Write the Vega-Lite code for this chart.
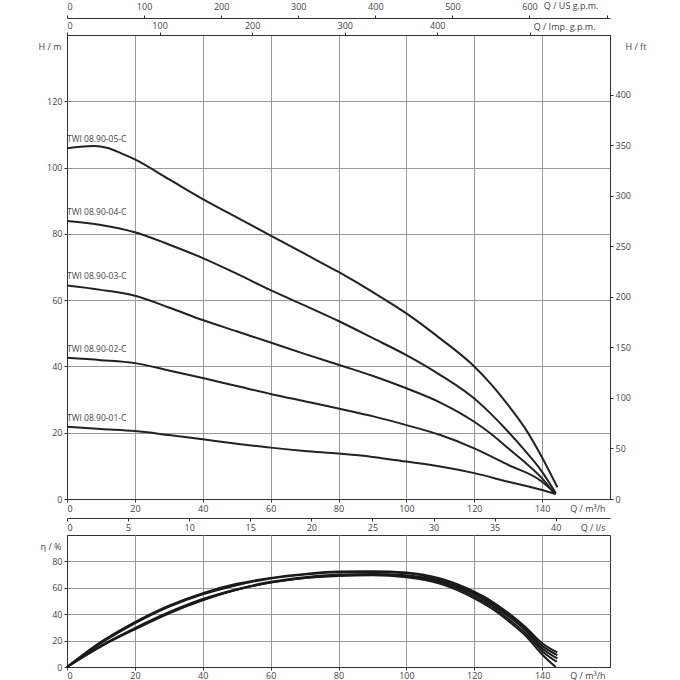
{
  "$schema": "https://vega.github.io/schema/vega-lite/v6.json",
  "padding": {"left": 37, "top": 0, "right": 0, "bottom": 0},
  "background": "white",
  "config": {
    "view": {"stroke": "#333", "strokeWidth": 1},
    "font": "Open Sans",
    "axis": {
      "labelFont": "Open Sans", "labelFontSize": 9, "labelColor": "#444",
      "titleFont": "Open Sans", "titleFontSize": 9, "titleFontWeight": "normal", "titleColor": "#444",
      "domainColor": "#333", "tickColor": "#333", "gridColor": "#999", "gridOpacity": 1,
      "tickSize": 3, "labelPadding": 2
    }
  },
  "datasets": {
    "head": [
      {"pump": "05", "Q": 0, "H": 105.8}, {"pump": "05", "Q": 4, "H": 106.3}, {"pump": "05", "Q": 8, "H": 106.5}, {"pump": "05", "Q": 12, "H": 105.9}, {"pump": "05", "Q": 16, "H": 104.3}, {"pump": "05", "Q": 20, "H": 102.5}, {"pump": "05", "Q": 30, "H": 96.5}, {"pump": "05", "Q": 40, "H": 90.5}, {"pump": "05", "Q": 50, "H": 85}, {"pump": "05", "Q": 60, "H": 79.5}, {"pump": "05", "Q": 70, "H": 74}, {"pump": "05", "Q": 80, "H": 68.5}, {"pump": "05", "Q": 90, "H": 62.5}, {"pump": "05", "Q": 100, "H": 56}, {"pump": "05", "Q": 110, "H": 48.4}, {"pump": "05", "Q": 120, "H": 40}, {"pump": "05", "Q": 125, "H": 34.6}, {"pump": "05", "Q": 130, "H": 28.3}, {"pump": "05", "Q": 135, "H": 21.3}, {"pump": "05", "Q": 140, "H": 12.5}, {"pump": "05", "Q": 144.5, "H": 3.5},
      {"pump": "04", "Q": 0, "H": 83.9}, {"pump": "04", "Q": 10, "H": 82.7}, {"pump": "04", "Q": 20, "H": 80.5}, {"pump": "04", "Q": 30, "H": 76.8}, {"pump": "04", "Q": 40, "H": 72.7}, {"pump": "04", "Q": 50, "H": 68}, {"pump": "04", "Q": 60, "H": 63}, {"pump": "04", "Q": 70, "H": 58.4}, {"pump": "04", "Q": 80, "H": 53.7}, {"pump": "04", "Q": 90, "H": 48.6}, {"pump": "04", "Q": 100, "H": 43.4}, {"pump": "04", "Q": 110, "H": 37.4}, {"pump": "04", "Q": 120, "H": 30.3}, {"pump": "04", "Q": 125, "H": 25.6}, {"pump": "04", "Q": 130, "H": 20.3}, {"pump": "04", "Q": 135, "H": 14.5}, {"pump": "04", "Q": 140, "H": 8.2}, {"pump": "04", "Q": 144, "H": 1.8},
      {"pump": "03", "Q": 0, "H": 64.4}, {"pump": "03", "Q": 10, "H": 63.1}, {"pump": "03", "Q": 20, "H": 61.3}, {"pump": "03", "Q": 30, "H": 57.8}, {"pump": "03", "Q": 40, "H": 54}, {"pump": "03", "Q": 50, "H": 50.6}, {"pump": "03", "Q": 60, "H": 47.2}, {"pump": "03", "Q": 70, "H": 43.8}, {"pump": "03", "Q": 80, "H": 40.5}, {"pump": "03", "Q": 90, "H": 37.2}, {"pump": "03", "Q": 100, "H": 33.4}, {"pump": "03", "Q": 110, "H": 29.1}, {"pump": "03", "Q": 120, "H": 23.3}, {"pump": "03", "Q": 125, "H": 19.6}, {"pump": "03", "Q": 130, "H": 15.3}, {"pump": "03", "Q": 135, "H": 11}, {"pump": "03", "Q": 140, "H": 6.2}, {"pump": "03", "Q": 143.5, "H": 1.8},
      {"pump": "02", "Q": 0, "H": 42.6}, {"pump": "02", "Q": 10, "H": 41.9}, {"pump": "02", "Q": 20, "H": 41}, {"pump": "02", "Q": 30, "H": 38.8}, {"pump": "02", "Q": 40, "H": 36.5}, {"pump": "02", "Q": 50, "H": 34.1}, {"pump": "02", "Q": 60, "H": 31.7}, {"pump": "02", "Q": 70, "H": 29.5}, {"pump": "02", "Q": 80, "H": 27.3}, {"pump": "02", "Q": 90, "H": 25}, {"pump": "02", "Q": 100, "H": 22.3}, {"pump": "02", "Q": 110, "H": 19.3}, {"pump": "02", "Q": 120, "H": 15.3}, {"pump": "02", "Q": 130, "H": 10.3}, {"pump": "02", "Q": 140, "H": 5.2}, {"pump": "02", "Q": 144, "H": 1.5},
      {"pump": "01", "Q": 0, "H": 21.8}, {"pump": "01", "Q": 10, "H": 21.1}, {"pump": "01", "Q": 20, "H": 20.5}, {"pump": "01", "Q": 30, "H": 19.3}, {"pump": "01", "Q": 40, "H": 18}, {"pump": "01", "Q": 50, "H": 16.7}, {"pump": "01", "Q": 60, "H": 15.5}, {"pump": "01", "Q": 70, "H": 14.5}, {"pump": "01", "Q": 80, "H": 13.7}, {"pump": "01", "Q": 90, "H": 12.7}, {"pump": "01", "Q": 100, "H": 11.3}, {"pump": "01", "Q": 110, "H": 9.8}, {"pump": "01", "Q": 120, "H": 7.8}, {"pump": "01", "Q": 130, "H": 5.2}, {"pump": "01", "Q": 140, "H": 2.7}, {"pump": "01", "Q": 144, "H": 1.5}
    ],
    "labels": [
      {"label": "TWI 08.90-05-C", "Q": 0, "H": 108.7},
      {"label": "TWI 08.90-04-C", "Q": 0, "H": 86.7},
      {"label": "TWI 08.90-03-C", "Q": 0, "H": 67.3},
      {"label": "TWI 08.90-02-C", "Q": 0, "H": 45.4},
      {"label": "TWI 08.90-01-C", "Q": 0, "H": 24.5}
    ],
    "eff": [
      {"pump": "05", "Q": 0, "eta": 0}, {"pump": "05", "Q": 10, "eta": 19}, {"pump": "05", "Q": 20, "eta": 34}, {"pump": "05", "Q": 30, "eta": 46.5}, {"pump": "05", "Q": 40, "eta": 56}, {"pump": "05", "Q": 50, "eta": 63}, {"pump": "05", "Q": 60, "eta": 67.5}, {"pump": "05", "Q": 70, "eta": 70.5}, {"pump": "05", "Q": 80, "eta": 72.3}, {"pump": "05", "Q": 90, "eta": 72.5}, {"pump": "05", "Q": 100, "eta": 71.5}, {"pump": "05", "Q": 110, "eta": 67}, {"pump": "05", "Q": 120, "eta": 57}, {"pump": "05", "Q": 125, "eta": 50}, {"pump": "05", "Q": 130, "eta": 41}, {"pump": "05", "Q": 135, "eta": 30.5}, {"pump": "05", "Q": 140, "eta": 18}, {"pump": "05", "Q": 144.5, "eta": 11},
      {"pump": "04", "Q": 0, "eta": 0}, {"pump": "04", "Q": 10, "eta": 18}, {"pump": "04", "Q": 20, "eta": 33}, {"pump": "04", "Q": 30, "eta": 45.5}, {"pump": "04", "Q": 40, "eta": 55}, {"pump": "04", "Q": 50, "eta": 62}, {"pump": "04", "Q": 60, "eta": 67}, {"pump": "04", "Q": 70, "eta": 70}, {"pump": "04", "Q": 80, "eta": 71.8}, {"pump": "04", "Q": 90, "eta": 72}, {"pump": "04", "Q": 100, "eta": 71}, {"pump": "04", "Q": 110, "eta": 66}, {"pump": "04", "Q": 120, "eta": 56}, {"pump": "04", "Q": 125, "eta": 49}, {"pump": "04", "Q": 130, "eta": 39.5}, {"pump": "04", "Q": 135, "eta": 29}, {"pump": "04", "Q": 140, "eta": 16}, {"pump": "04", "Q": 144.5, "eta": 9},
      {"pump": "03", "Q": 0, "eta": 0}, {"pump": "03", "Q": 10, "eta": 16}, {"pump": "03", "Q": 20, "eta": 29.5}, {"pump": "03", "Q": 30, "eta": 41.5}, {"pump": "03", "Q": 40, "eta": 51.5}, {"pump": "03", "Q": 50, "eta": 59}, {"pump": "03", "Q": 60, "eta": 64.5}, {"pump": "03", "Q": 70, "eta": 68}, {"pump": "03", "Q": 80, "eta": 70}, {"pump": "03", "Q": 90, "eta": 70.5}, {"pump": "03", "Q": 100, "eta": 69.5}, {"pump": "03", "Q": 110, "eta": 65}, {"pump": "03", "Q": 120, "eta": 55}, {"pump": "03", "Q": 125, "eta": 47.5}, {"pump": "03", "Q": 130, "eta": 38.5}, {"pump": "03", "Q": 135, "eta": 28}, {"pump": "03", "Q": 140, "eta": 14}, {"pump": "03", "Q": 144.5, "eta": 6.5},
      {"pump": "02", "Q": 0, "eta": 0}, {"pump": "02", "Q": 10, "eta": 15.5}, {"pump": "02", "Q": 20, "eta": 28.5}, {"pump": "02", "Q": 30, "eta": 40.5}, {"pump": "02", "Q": 40, "eta": 50.5}, {"pump": "02", "Q": 50, "eta": 58.5}, {"pump": "02", "Q": 60, "eta": 64}, {"pump": "02", "Q": 70, "eta": 67.5}, {"pump": "02", "Q": 80, "eta": 69.5}, {"pump": "02", "Q": 90, "eta": 70}, {"pump": "02", "Q": 100, "eta": 68.8}, {"pump": "02", "Q": 110, "eta": 64}, {"pump": "02", "Q": 120, "eta": 53.5}, {"pump": "02", "Q": 125, "eta": 46}, {"pump": "02", "Q": 130, "eta": 36.5}, {"pump": "02", "Q": 135, "eta": 26}, {"pump": "02", "Q": 140, "eta": 12}, {"pump": "02", "Q": 144.3, "eta": 4},
      {"pump": "01", "Q": 0, "eta": 0}, {"pump": "01", "Q": 10, "eta": 16}, {"pump": "01", "Q": 20, "eta": 29}, {"pump": "01", "Q": 30, "eta": 41}, {"pump": "01", "Q": 40, "eta": 51}, {"pump": "01", "Q": 50, "eta": 58.5}, {"pump": "01", "Q": 60, "eta": 64}, {"pump": "01", "Q": 70, "eta": 67.5}, {"pump": "01", "Q": 80, "eta": 69}, {"pump": "01", "Q": 90, "eta": 69.5}, {"pump": "01", "Q": 100, "eta": 68}, {"pump": "01", "Q": 110, "eta": 63}, {"pump": "01", "Q": 120, "eta": 52}, {"pump": "01", "Q": 125, "eta": 44.5}, {"pump": "01", "Q": 130, "eta": 35}, {"pump": "01", "Q": 135, "eta": 24}, {"pump": "01", "Q": 140, "eta": 9.5}, {"pump": "01", "Q": 144, "eta": 0}
    ],
    "ft": [{"ft": 0}, {"ft": 400}],
    "lps": [{"lps": 0}, {"lps": 40}],
    "usgpm": [{"usgpm": 0}, {"usgpm": 700}],
    "impgpm": [{"impgpm": 0}, {"impgpm": 500}]
  },
  "spacing": 36,
  "bounds": "flush",
  "vconcat": [
    {
      "width": 543,
      "height": 464,
      "layer": [
        {
          "data": {"name": "head"},
          "mark": {"type": "line", "interpolate": "monotone", "stroke": "#222", "strokeWidth": 2},
          "encoding": {
            "x": {"field": "Q", "type": "quantitative", "scale": {"domain": [0, 160], "nice": false},
              "axis": {"orient": "bottom", "values": [0, 20, 40, 60, 80, 100, 120, 140], "grid": true, "title": "Q / m³/h", "titleX": 538, "titleY": 9, "titleAlign": "right", "titleBaseline": "middle"}},
            "y": {"field": "H", "type": "quantitative", "scale": {"domain": [0, 140], "nice": false},
              "axis": {"orient": "left", "values": [0, 20, 40, 60, 80, 100, 120], "grid": true, "title": "H / m", "titleAngle": 0, "titleX": -6, "titleY": 11, "titleAlign": "right", "titleBaseline": "middle"}},
            "detail": {"field": "pump"}
          }
        },
        {
          "data": {"name": "labels"},
          "mark": {"type": "text", "align": "left", "baseline": "middle", "fontSize": 8.5, "color": "#444", "font": "Open Sans"},
          "encoding": {
            "x": {"field": "Q", "type": "quantitative", "scale": {"domain": [0, 160], "nice": false}, "axis": null},
            "y": {"field": "H", "type": "quantitative", "scale": {"domain": [0, 140], "nice": false}, "axis": null},
            "text": {"field": "label"}
          }
        },
        {
          "data": {"name": "ft"},
          "mark": {"type": "point", "opacity": 0},
          "encoding": {
            "x": {"field": "ft", "type": "quantitative", "scale": {"domain": [0, 459.32], "nice": false}, "axis": null},
            "y": {"field": "ft", "type": "quantitative", "scale": {"domain": [0, 459.32], "nice": false},
              "axis": {"orient": "right", "values": [0, 50, 100, 150, 200, 250, 300, 350, 400], "grid": false, "title": "H / ft", "titleAngle": 0, "titleX": 15, "titleY": 11, "titleAlign": "left", "titleBaseline": "middle"}}
          }
        },
        {
          "data": {"name": "lps"},
          "mark": {"type": "point", "opacity": 0},
          "encoding": {
            "x": {"field": "lps", "type": "quantitative", "scale": {"domain": [0, 44.444], "nice": false},
              "axis": {"orient": "bottom", "offset": 19, "values": [0, 5, 10, 15, 20, 25, 30, 35, 40], "grid": false, "title": "Q / l/s", "titleX": 538, "titleY": 9, "titleAlign": "right", "titleBaseline": "middle"}},
            "y": {"field": "lps", "type": "quantitative", "scale": {"domain": [0, 44.444], "nice": false}, "axis": null}
          }
        },
        {
          "data": {"name": "usgpm"},
          "mark": {"type": "point", "opacity": 0},
          "encoding": {
            "x": {"field": "usgpm", "type": "quantitative", "scale": {"domain": [0, 704.47], "nice": false},
              "axis": {"orient": "top", "offset": 17, "values": [0, 100, 200, 300, 400, 500, 600, 700], "labelExpr": "datum.value == 700 ? '' : datum.label", "labelPadding": 4, "grid": false, "title": "Q / US g.p.m.", "titleX": 531, "titleY": -13, "titleAlign": "right", "titleBaseline": "middle"}},
            "y": {"field": "usgpm", "type": "quantitative", "scale": {"domain": [0, 704.47], "nice": false}, "axis": null}
          }
        },
        {
          "data": {"name": "impgpm"},
          "mark": {"type": "point", "opacity": 0},
          "encoding": {
            "x": {"field": "impgpm", "type": "quantitative", "scale": {"domain": [0, 586.59], "nice": false},
              "axis": {"orient": "top", "offset": 0, "values": [0, 100, 200, 300, 400, 500], "labelExpr": "datum.value == 500 ? '' : datum.label", "grid": false, "title": "Q / Imp. g.p.m.", "titleX": 528, "titleY": -9, "titleAlign": "right", "titleBaseline": "middle"}},
            "y": {"field": "impgpm", "type": "quantitative", "scale": {"domain": [0, 586.59], "nice": false}, "axis": null}
          }
        }
      ],
      "resolve": {"scale": {"x": "independent", "y": "independent"}}
    },
    {
      "width": 543,
      "height": 132,
      "data": {"name": "eff"},
      "mark": {"type": "line", "interpolate": "monotone", "stroke": "#1a1a1a", "strokeWidth": 2},
      "encoding": {
        "x": {"field": "Q", "type": "quantitative", "scale": {"domain": [0, 160], "nice": false},
          "axis": {"orient": "bottom", "values": [0, 20, 40, 60, 80, 100, 120, 140], "grid": true, "labelPadding": 1, "title": "Q / m³/h", "titleX": 538, "titleY": 8, "titleAlign": "right", "titleBaseline": "middle"}},
        "y": {"field": "eta", "type": "quantitative", "scale": {"domain": [0, 100], "nice": false},
          "axis": {"orient": "left", "values": [0, 20, 40, 60, 80], "grid": true, "title": "η / %", "titleAngle": 0, "titleX": -6, "titleY": 11, "titleAlign": "right", "titleBaseline": "middle"}},
        "detail": {"field": "pump"}
      }
    }
  ]
}
